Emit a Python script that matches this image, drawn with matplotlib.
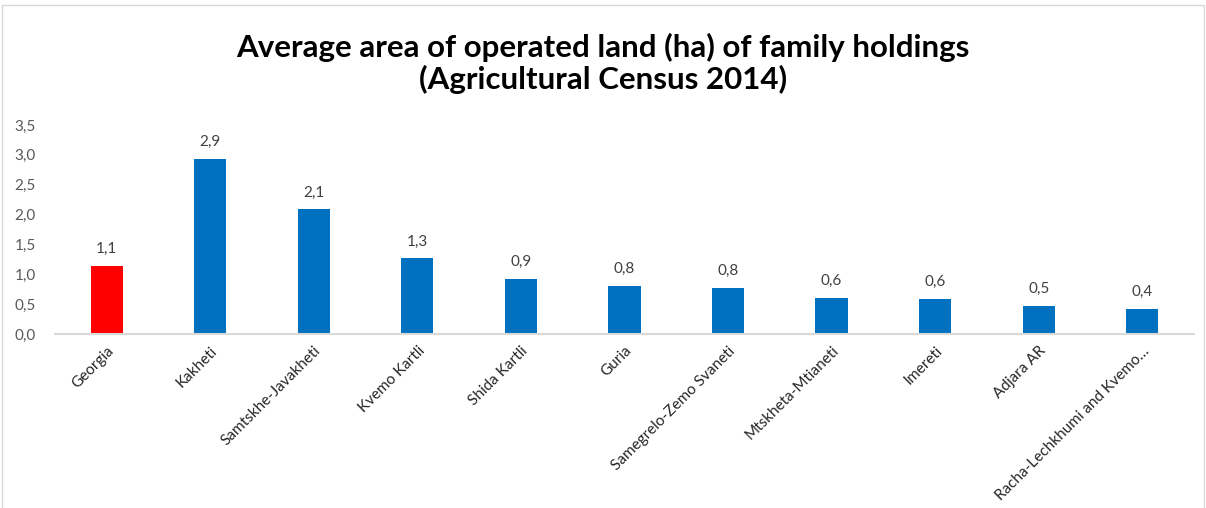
import matplotlib.pyplot as plt
from matplotlib.patches import Rectangle

regions = ['Georgia', 'Kakheti', 'Samtskhe-Javakheti', 'Kvemo Kartli', 'Shida Kartli',
           'Guria', 'Samegrelo-Zemo Svaneti', 'Mtskheta-Mtianeti', 'Imereti', 'Adjara AR',
           'Racha-Lechkhumi and Kvemo\u2026']
avg_area = [1.14, 2.93, 2.09, 1.27, 0.92, 0.81, 0.77, 0.61, 0.59, 0.47, 0.42]
yticks = [0, 0.5, 1.0, 1.5, 2.0, 2.5, 3.0, 3.5]

plt.rcParams['font.family'] = ['Lato', 'DejaVu Sans']

fig = plt.figure(figsize=(12.06, 5.08), dpi=100)
ax = fig.add_axes([0.0456, 0.3425, 0.9444, 0.4114])

colors = ['#ff0000'] + ['#0070c0'] * (len(regions) - 1)
x = range(len(regions))
bars = ax.bar(x, avg_area, width=0.31, color=colors)

# value labels, one decimal with comma separator
for b, v in zip(bars, avg_area):
    ax.annotate(f'{v:.1f}'.replace('.', ','), (b.get_x() + b.get_width() / 2, v),
                xytext=(0, 7), textcoords='offset points', ha='center', va='bottom',
                fontsize=11, color='#404040')

ax.set_xlim(-0.5, len(regions) - 0.5)
ax.set_ylim(0, 3.5)
ax.set_yticks(yticks)
ax.set_yticklabels([f'{t:.1f}'.replace('.', ',') for t in yticks], fontsize=11, color='#595959')
ax.set_xticks(list(x))
ax.set_xticklabels(regions, rotation=45, ha='right', rotation_mode='anchor',
                   fontsize=11, color='#262626')
ax.tick_params(axis='both', length=0)
ax.tick_params(axis='y', pad=14)
ax.tick_params(axis='x', pad=7)

for s in ['top', 'right', 'left']:
    ax.spines[s].set_visible(False)
ax.spines['bottom'].set_color('#d9d9d9')
ax.spines['bottom'].set_linewidth(1.5)

fig.text(0.5, 0.815, 'Average area of operated land (ha) of family holdings\n(Agricultural Census 2014)',
         ha='center', va='bottom', fontsize=22.5, fontweight='bold', color='#000000',
         linespacing=1.12)

# thin frame around the chart area
fig.patches.append(Rectangle((0.002, -0.01), 0.996, 1.0, transform=fig.transFigure,
                             fill=False, edgecolor='#d9d9d9', linewidth=1))

fig.savefig('out.png', dpi=100)
